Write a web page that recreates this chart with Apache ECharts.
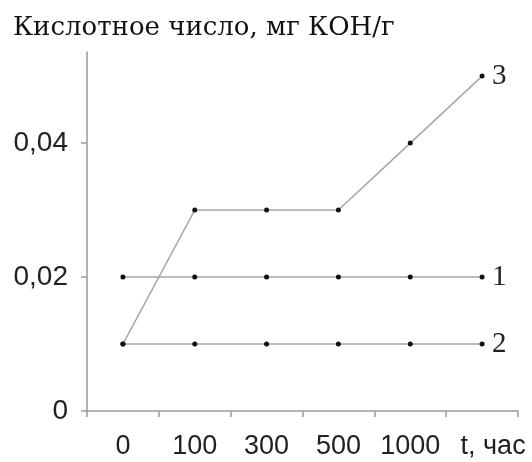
<!DOCTYPE html>
<html>
<head>
<meta charset="utf-8">
<script src="https://cdn.jsdelivr.net/npm/echarts@6/dist/echarts.min.js"></script>
<style>
  html, body { margin: 0; padding: 0; background: #fff; }
  #chart { width: 532px; height: 462px; }
</style>
</head>
<body>
<div id="chart"></div>
<script>
// Acid number over time for three samples
const categories = ['0', '100', '300', '500', '1000', 't, час'];
const series1 = [0.02, 0.02, 0.02, 0.02, 0.02, 0.02];
const series2 = [0.01, 0.01, 0.01, 0.01, 0.01, 0.01];
const series3 = [0.01, 0.03, 0.03, 0.03, 0.04, 0.05];
const seriesNames = ['1', '2', '3'];
const yTicks = [0, 0.02, 0.04];

const chart = echarts.init(document.getElementById('chart'));

const lineColor = '#a6a6a6';
const axisColor = '#9a9a9a';
const labelFont = 'Liberation Sans';

// the last category carries the axis unit; nudge it right so it clears "1000"
const xAxisData = categories.map((c, i) =>
  i === categories.length - 1
    ? { value: c, textStyle: { padding: [0, 0, 0, 22] } }
    : c
);

function makeSeries(name, data) {
  return {
    name: name,
    type: 'line',
    data: data,
    symbol: 'circle',
    symbolSize: 5,
    itemStyle: { color: '#111' },
    lineStyle: { color: lineColor, width: 1.5 },
    endLabel: {
      show: true,
      formatter: name,
      distance: 10,
      color: '#222',
      fontFamily: 'Liberation Serif',
      fontSize: 29
    },
    emphasis: { disabled: true },
    animation: false
  };
}

chart.setOption({
  animation: false,
  title: {
    text: 'Кислотное число, мг КОН/г',
    left: 8,
    top: 10,
    textStyle: {
      fontFamily: 'DejaVu Serif',
      fontWeight: 'normal',
      fontSize: 26,
      color: '#111'
    }
  },
  grid: { left: 87, right: 14, top: 52, bottom: 51 },
  xAxis: {
    type: 'category',
    data: xAxisData,
    boundaryGap: true,
    axisLine: { lineStyle: { color: axisColor, width: 1.5 } },
    axisTick: { show: true, length: 6, inside: false, lineStyle: { color: axisColor, width: 1.5 } },
    axisLabel: {
      interval: 0,
      hideOverlap: false,
      margin: 22,
      color: '#222',
      fontFamily: labelFont,
      fontSize: 27
    }
  },
  yAxis: {
    type: 'value',
    min: 0,
    max: 0.0536,
    interval: 0.02,
    splitLine: { show: false },
    axisLine: { show: true, lineStyle: { color: axisColor, width: 1.5 } },
    axisTick: { show: true, length: 6, customValues: yTicks, lineStyle: { color: axisColor, width: 1.5 } },
    axisLabel: {
      customValues: yTicks,
      margin: 19,
      color: '#222',
      fontFamily: labelFont,
      fontSize: 28,
      formatter: v => v === 0 ? '0' : v.toFixed(2).replace('.', ',')
    }
  },
  series: [
    makeSeries(seriesNames[0], series1),
    makeSeries(seriesNames[1], series2),
    makeSeries(seriesNames[2], series3)
  ]
});
</script>
</body>
</html>
